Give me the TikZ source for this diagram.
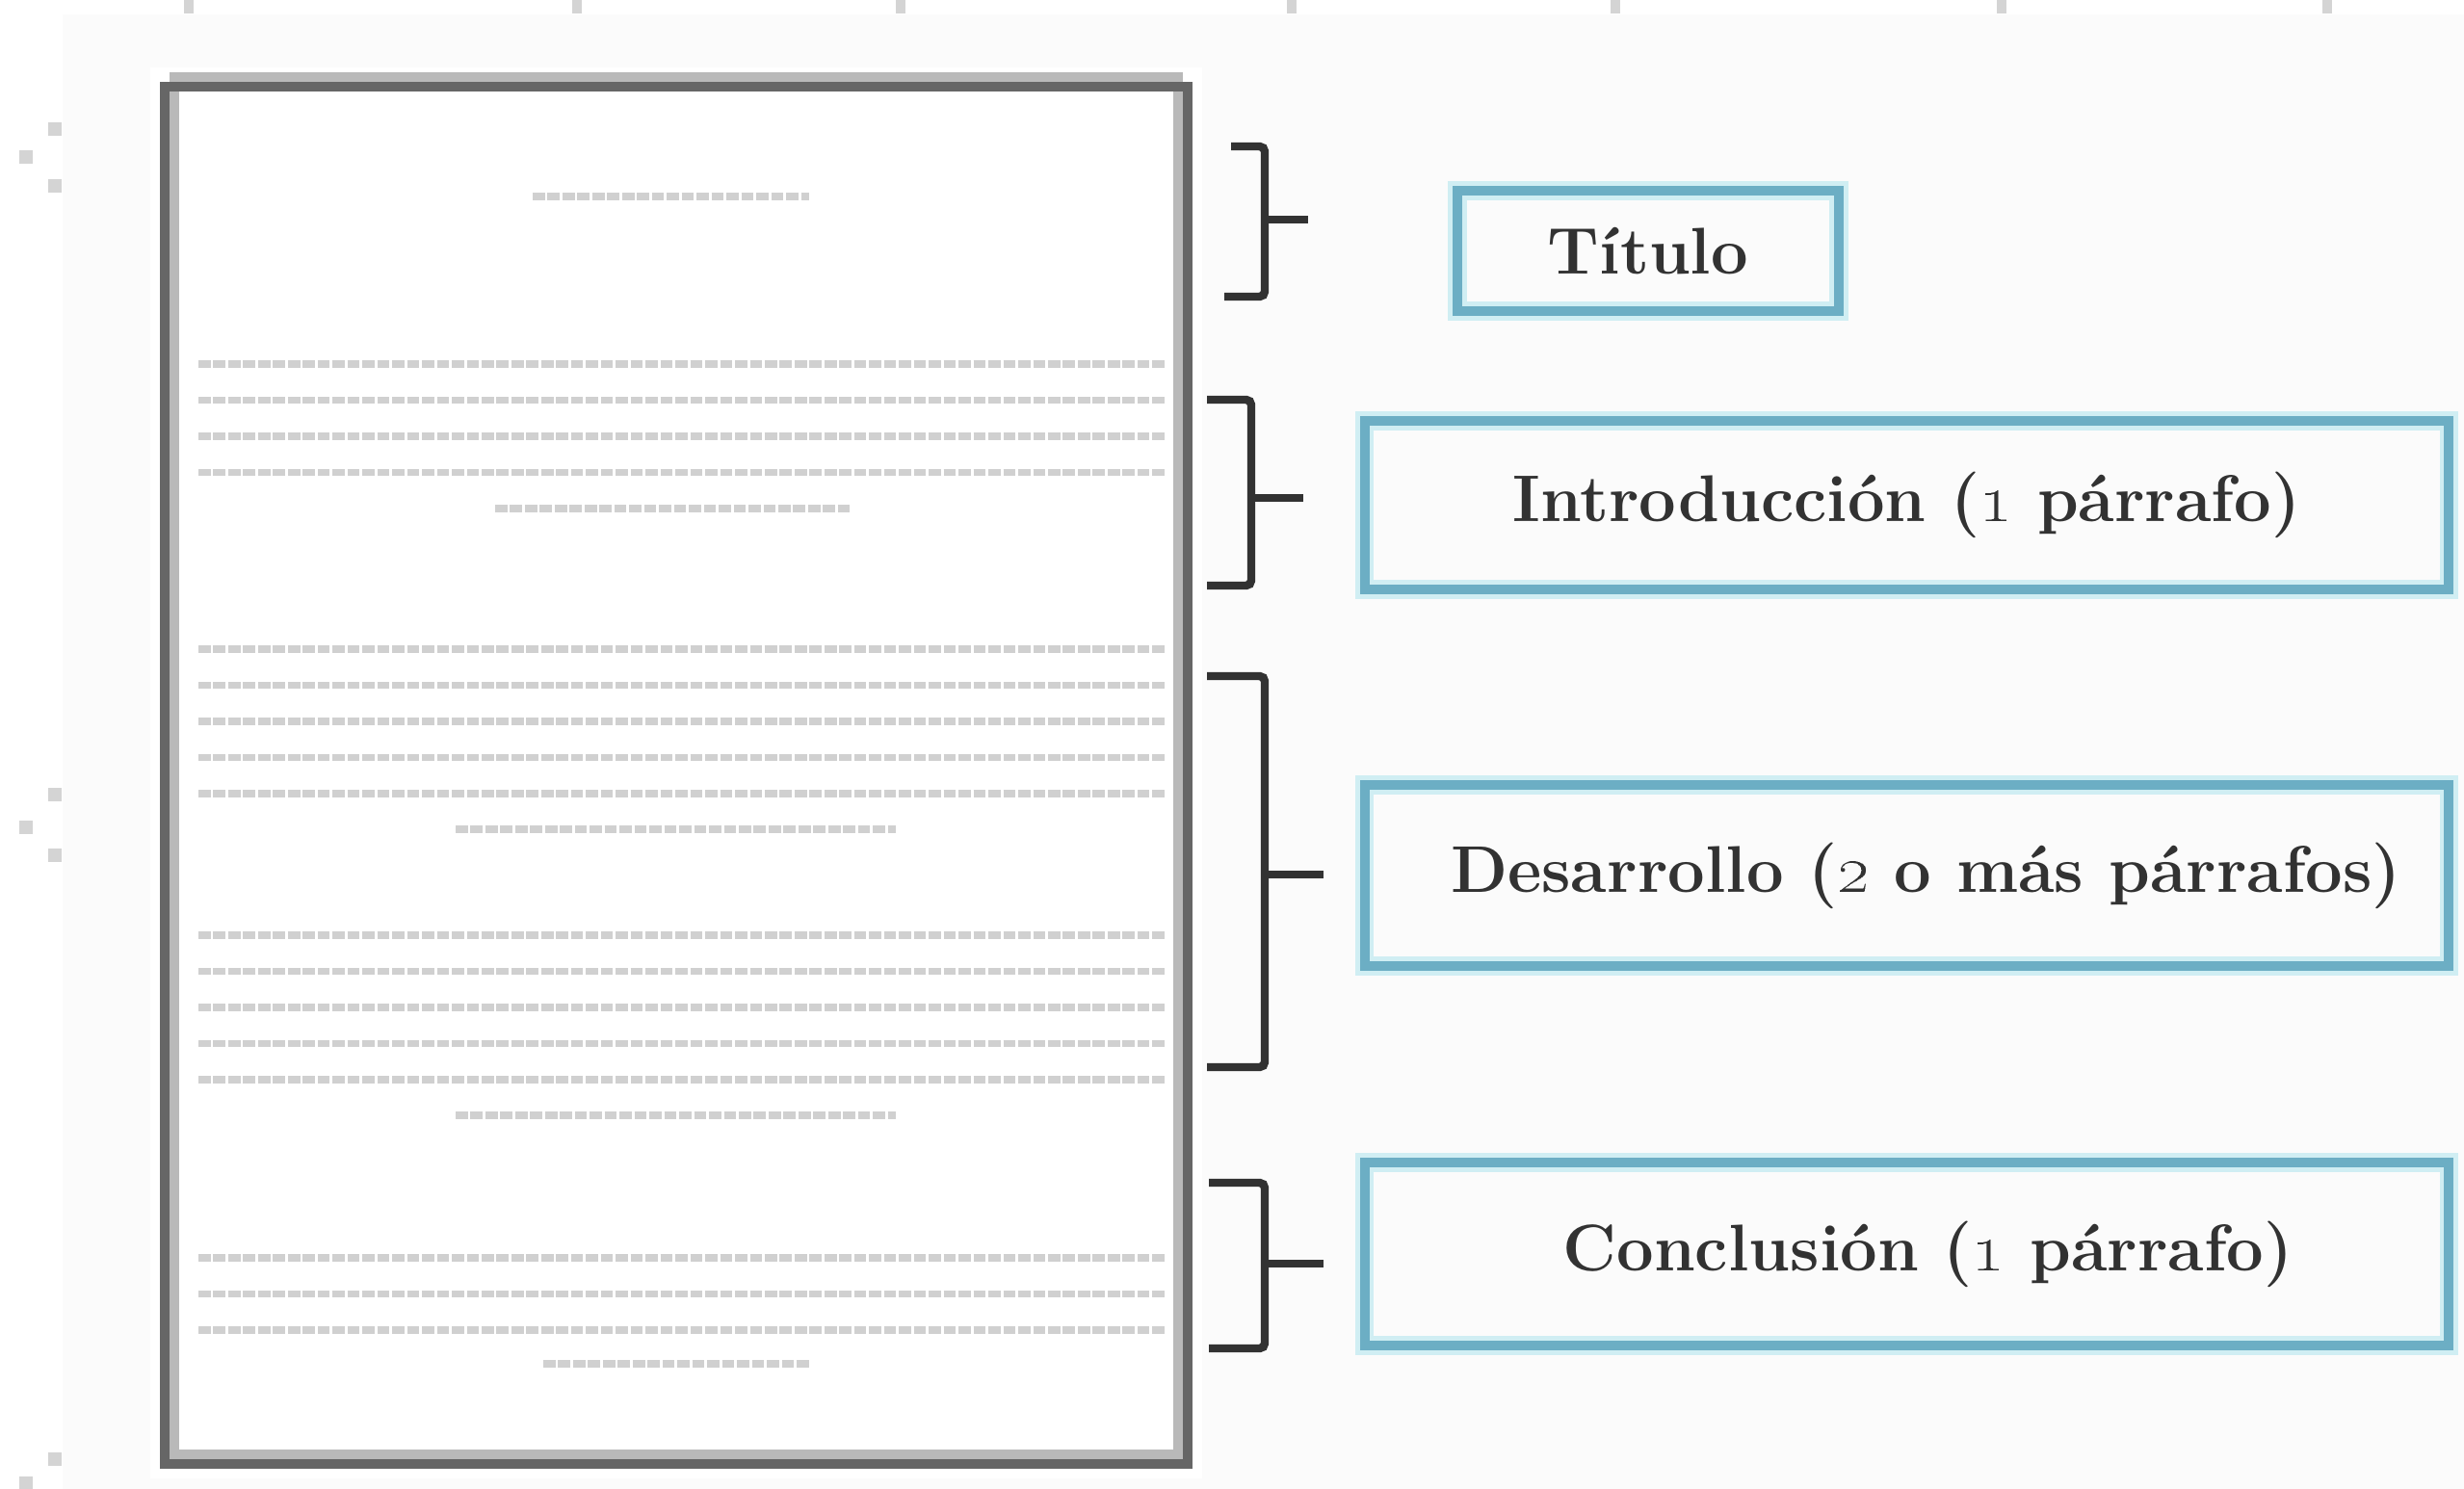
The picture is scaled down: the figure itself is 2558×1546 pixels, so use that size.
\documentclass[tikz,border=0pt]{standalone}
\usepackage{tikz}

\definecolor{marco}{RGB}{102,102,102}
\definecolor{sombra}{RGB}{185,185,185}
\definecolor{turquesa}{RGB}{108,174,196}
\definecolor{halo}{RGB}{208,238,243}
\definecolor{renglon}{RGB}{208,208,208}
\definecolor{tinta}{RGB}{50,50,50}
\definecolor{fondo}{RGB}{251,251,251}

\begin{document}
\begin{tikzpicture}[x=0.01cm, y=-0.01cm,
	every node/.style={font=\fontsize{19.5}{23}\selectfont\bfseries, text=tinta},
	seccion/.style={draw=turquesa, line width=2.9pt, inner sep=0pt,
		preaction={draw=halo, line width=5.5pt}},
	renglon/.style={draw=renglon, line width=2pt, dash pattern=on 3.6pt off 0.8pt},
	llave/.style={draw=tinta, line width=2.4pt, rounded corners=1.5pt},
	marca/.style={fill=black!17}]
	\useasboundingbox (0,0) rectangle (2558,1546);
	\fill[white] (0,0) rectangle (2558,1546);
	\fill[fondo] (65,15) rectangle (2558,1546);
	\foreach \x in {196,599,935,1341,1677,2078,2416}
		\fill[marca] (\x-5,0) rectangle (\x+5,14);
	\foreach \x/\y in {57/134,27/163,57/193,57/825,27/859,57/888,57/1515,27/1540}
		\fill[marca] (\x-7,\y-7) rectangle (\x+7,\y+7);
	\begin{scope}
		\fill[white] (156,70) rectangle (1248,1535);
		\draw[sombra, line width=2.85pt] (181,80) rectangle (1223,1510);
		\node[draw=marco, line width=2.85pt, inner sep=0pt,
			minimum width=10.62cm, minimum height=14.30cm] (hoja) at (702,805) {};
		\draw[renglon] (553,204) -- (840,204);
		\foreach \y in {378,415.5,453,490.5}
			\draw[renglon] (206,\y) -- (1209,\y);
		\draw[renglon] (514,528) -- (882,528);
		\foreach \y in {674,711.5,749,786.5,824}
			\draw[renglon] (206,\y) -- (1209,\y);
		\draw[renglon] (473,861) -- (930,861);
		\foreach \y in {971,1008.5,1046,1083.5,1121}
			\draw[renglon] (206,\y) -- (1209,\y);
		\draw[renglon] (473,1158) -- (930,1158);
		\foreach \y in {1306,1343.5,1381}
			\draw[renglon] (206,\y) -- (1209,\y);
		\draw[renglon] (564,1416) -- (841,1416);
	\end{scope}
	\begin{scope}
		\node[seccion, minimum width=3.96cm, minimum height=1.25cm] (titulo) at (1711,260.5) {Título};
		\node[seccion, minimum width=11.25cm, minimum height=1.75cm] (intro) at (1979.5,524.5)
			{Introducción (\oldstylenums{1} párrafo)};
		\node[seccion, minimum width=11.25cm, minimum height=1.88cm] (desarrollo) at (1979.5,909)
			{\hspace*{0.4cm}Desarrollo (\oldstylenums{2} o más párrafos)};
		\node[seccion, minimum width=11.25cm, minimum height=1.90cm] (conclusion) at (1979.5,1302)
			{\hspace*{0.44cm}Conclusión (\oldstylenums{1} párrafo)};
		\draw[llave] (1278,152) -- (1313,152) -- (1313,308) -- (1271,308);
		\draw[llave] (1313,228) -- (1358,228);
		\draw[llave] (1253,415) -- (1299,415) -- (1299,608) -- (1253,608);
		\draw[llave] (1299,517) -- (1353,517);
		\draw[llave] (1253,702) -- (1313,702) -- (1313,1108) -- (1253,1108);
		\draw[llave] (1313,908) -- (1374,908);
		\draw[llave] (1255,1228) -- (1313,1228) -- (1313,1400) -- (1255,1400);
		\draw[llave] (1313,1312) -- (1374,1312);
	\end{scope}
\end{tikzpicture}
\end{document}
